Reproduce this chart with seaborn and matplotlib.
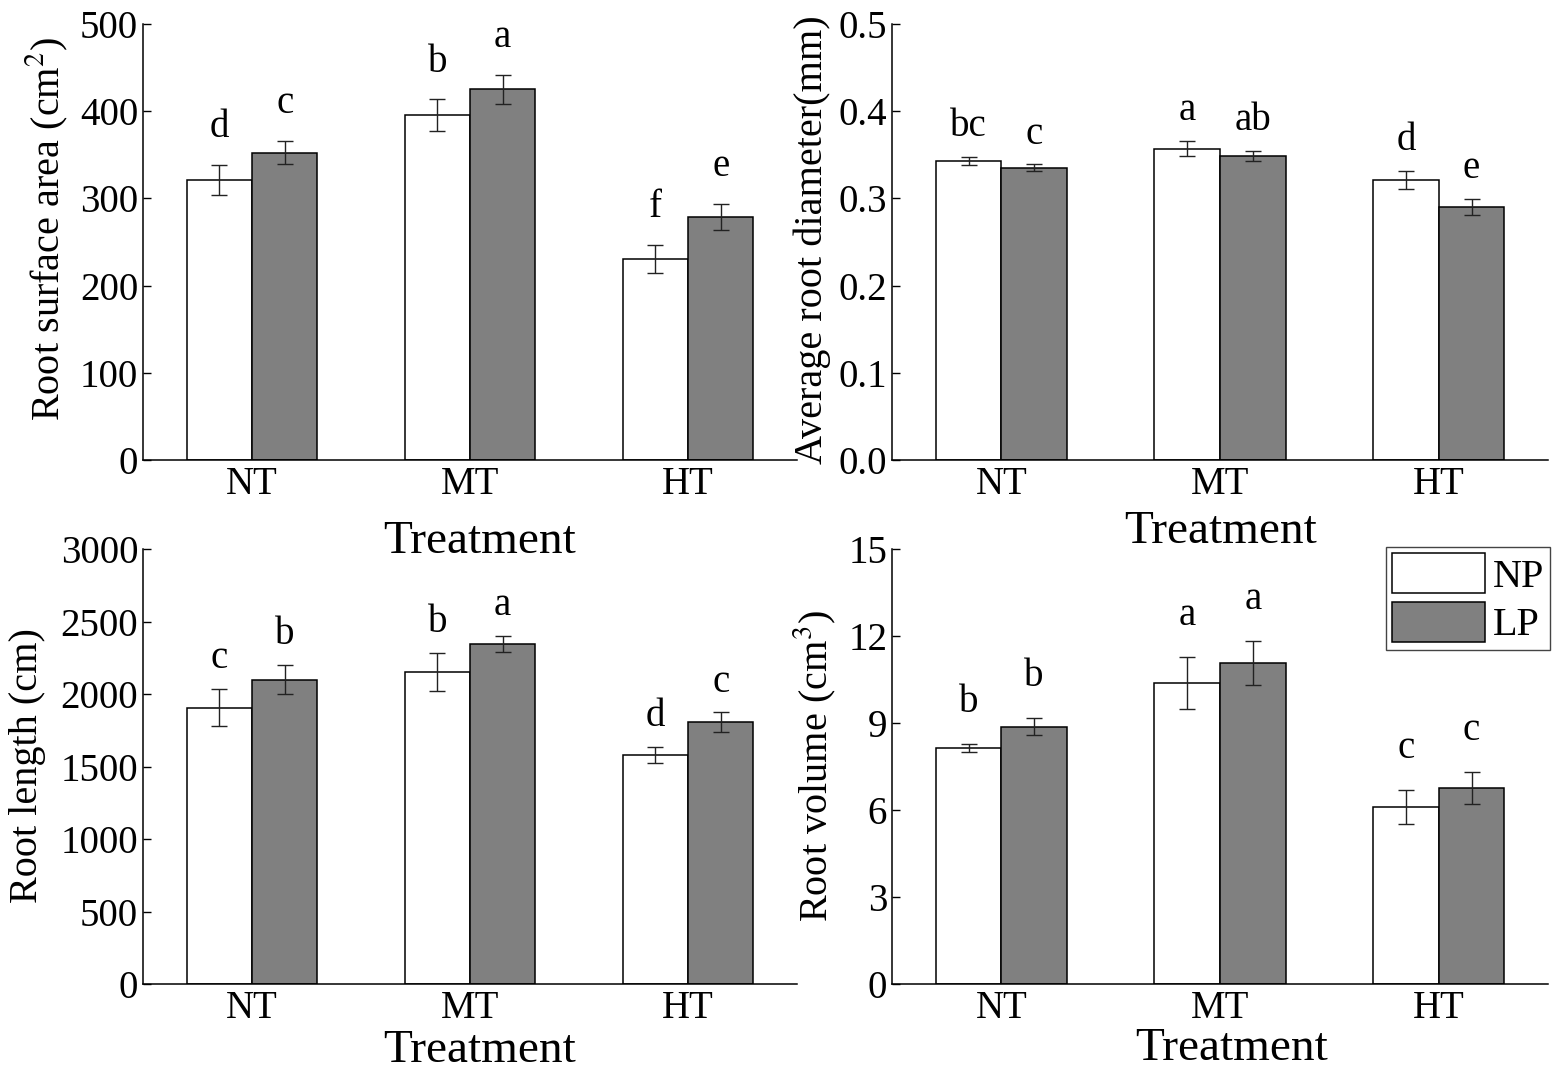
import numpy as np
import pandas as pd
import matplotlib
matplotlib.use("Agg")
import matplotlib.pyplot as plt
import seaborn as sns
from matplotlib.ticker import FormatStrFormatter

treatments = ["NT", "MT", "HT"]
p_levels = ["NP", "LP"]

# root surface area (cm2)
surface_np = [321, 395.5, 230.5]
surface_np_err = [17, 18, 16]
surface_lp = [352.5, 425, 279]
surface_lp_err = [13.5, 16.5, 15]
surface_letters_np = ["d", "b", "f"]
surface_letters_lp = ["c", "a", "e"]

# average root diameter (mm)
diameter_np = [0.343, 0.357, 0.321]
diameter_np_err = [0.005, 0.0085, 0.010]
diameter_lp = [0.335, 0.3485, 0.2905]
diameter_lp_err = [0.004, 0.0055, 0.009]
diameter_letters_np = ["bc", "a", "d"]
diameter_letters_lp = ["c", "ab", "e"]

# root length (cm)
length_np = [1907, 2155, 1578]
length_np_err = [128, 131, 57]
length_lp = [2099, 2345, 1806]
length_lp_err = [100, 55, 67]
length_letters_np = ["c", "b", "d"]
length_letters_lp = ["b", "a", "c"]

# root volume (cm3)
volume_np = [8.14, 10.39, 6.11]
volume_np_err = [0.14, 0.90, 0.58]
volume_lp = [8.87, 11.07, 6.77]
volume_lp_err = [0.29, 0.75, 0.55]
volume_letters_np = ["b", "a", "c"]
volume_letters_lp = ["b", "a", "c"]

sns.set_style("ticks")
plt.rcParams['font.family'] = ['Liberation Serif', 'DejaVu Serif']
plt.rcParams['mathtext.fontset'] = 'stix'
plt.rcParams['text.color'] = 'black'
plt.rcParams['axes.labelcolor'] = 'black'
plt.rcParams['xtick.color'] = 'black'
plt.rcParams['ytick.color'] = 'black'

fig = plt.figure(figsize=(15.59, 10.74), dpi=100)
ax1 = fig.add_axes([0.0917, 0.5717, 0.4195, 0.406])
ax2 = fig.add_axes([0.5722, 0.5717, 0.4208, 0.406])
ax3 = fig.add_axes([0.0917, 0.0838, 0.4195, 0.405])
ax4 = fig.add_axes([0.5722, 0.0838, 0.4208, 0.405])

panels = [
    (ax1, surface_np, surface_np_err, surface_lp, surface_lp_err, surface_letters_np, surface_letters_lp,
     "Root surface area (cm$^2$)", (0, 500), np.arange(0, 501, 100), 20, (-0.147, 0.53), (0.514, -0.213)),
    (ax2, diameter_np, diameter_np_err, diameter_lp, diameter_lp_err, diameter_letters_np, diameter_letters_lp,
     "Average root diameter(mm)", (0, 0.5), np.arange(0, 0.51, 0.1), 15, (-0.122, 0.505), (0.50, -0.19)),
    (ax3, length_np, length_np_err, length_lp, length_lp_err, length_letters_np, length_letters_lp,
     "Root length (cm)", (0, 3000), np.arange(0, 3001, 500), 15, (-0.176, 0.503), (0.514, -0.18)),
    (ax4, volume_np, volume_np_err, volume_lp, volume_lp_err, volume_letters_np, volume_letters_lp,
     "Root volume (cm$^3$)", (0, 15), np.arange(0, 16, 3), 23, (-0.117, 0.50), (0.517, -0.175)),
]

for ax, v_np, e_np, v_lp, e_lp, l_np, l_lp, ylab, ylim, yticks, off, ylc, xlc in panels:
    df = pd.DataFrame({
        "Treatment": treatments * 2,
        "P": ["NP"] * 3 + ["LP"] * 3,
        "value": v_np + v_lp,
    })
    sns.barplot(data=df, x="Treatment", y="value", hue="P", hue_order=p_levels,
                palette={"NP": "white", "LP": "#808080"}, edgecolor="black",
                linewidth=1.1, width=0.6, gap=0, errorbar=None, ax=ax,
                legend=(ax is ax4))
    for cont, errs, letters in zip(ax.containers, [e_np, e_lp], [l_np, l_lp]):
        xs = [b.get_x() + b.get_width() / 2 for b in cont]
        hs = [b.get_height() for b in cont]
        ax.errorbar(xs, hs, yerr=errs, fmt="none", ecolor="#222222",
                    elinewidth=1.0, capsize=6, capthick=1.0)
        for x, h, e, let in zip(xs, hs, errs, letters):
            ax.annotate(let, (x, h + e), xytext=(0, off), textcoords="offset points",
                        ha="center", va="baseline", fontsize=28)
    ax.set_xlim(-0.5, 2.5)
    ax.set_ylim(*ylim)
    ax.set_yticks(yticks)
    if ax is ax2:
        ax.yaxis.set_major_formatter(FormatStrFormatter("%.1f"))
    sns.despine(ax=ax)
    ax.patch.set_visible(False)
    for s in ["left", "bottom"]:
        ax.spines[s].set_linewidth(1.1)
        ax.spines[s].set_color("black")
    ax.tick_params(axis="y", direction="in", length=6, width=1.0, pad=3.5, labelsize=28)
    ax.tick_params(axis="x", length=0, pad=4, labelsize=28)
    ax.set_ylabel(ylab, fontsize=29)
    ax.yaxis.label.set_va("center")
    ax.yaxis.set_label_coords(*ylc)
    ax.set_xlabel("Treatment", fontsize=34)
    ax.xaxis.label.set_va("baseline")
    ax.xaxis.set_label_coords(*xlc)

leg = ax4.legend(loc="upper right", bbox_to_anchor=(1.003, 1.005), fontsize=29,
                 frameon=True, fancybox=False, framealpha=1, edgecolor="#444444",
                 handlelength=2.3, handleheight=1.15, handletextpad=0.2,
                 labelspacing=0.15, borderpad=0.15, borderaxespad=0)
leg.get_frame().set_linewidth(1.0)

fig.savefig("out.png", dpi=100)
